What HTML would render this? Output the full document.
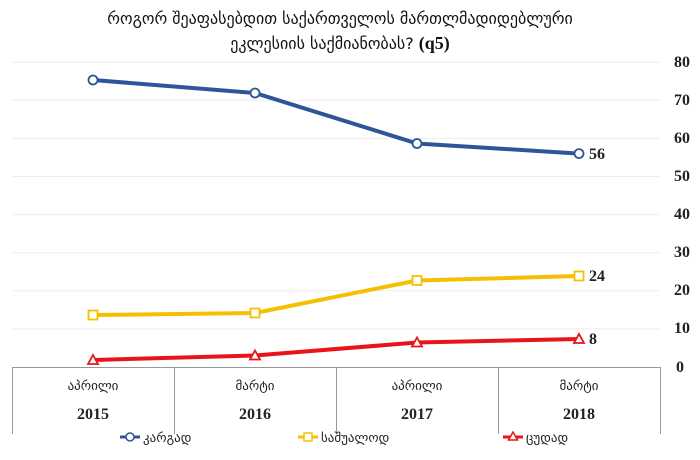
<!DOCTYPE html>
<html><head><meta charset="utf-8"><style>
html,body{margin:0;padding:0;background:#fff;width:700px;height:460px;overflow:hidden}
.g{font-family:"DejaVu Sans","Liberation Sans",sans-serif}
.s{font-family:"Liberation Serif",serif;font-weight:bold}
</style></head><body>
<svg width="700" height="460" viewBox="0 0 700 460" xmlns="http://www.w3.org/2000/svg">
<text class="g" x="340" y="24" text-anchor="middle" font-size="16" fill="#111">როგორ შეაფასებდით საქართველოს მართლმადიდებლური</text>
<text class="g" x="340" y="49" text-anchor="middle" font-size="16" fill="#111">ეკლესიის საქმიანობას? <tspan class="s" font-size="18">(q5)</tspan></text>
<g stroke="#eeeeee" stroke-width="1">
<line x1="12" x2="660" y1="62.2" y2="62.2"/><line x1="12" x2="660" y1="100.3" y2="100.3"/><line x1="12" x2="660" y1="138.4" y2="138.4"/><line x1="12" x2="660" y1="176.5" y2="176.5"/><line x1="12" x2="660" y1="214.6" y2="214.6"/><line x1="12" x2="660" y1="252.7" y2="252.7"/><line x1="12" x2="660" y1="290.8" y2="290.8"/><line x1="12" x2="660" y1="328.9" y2="328.9"/>
</g>
<g class="s" font-size="16" fill="#222" text-anchor="end">
<text x="690" y="67">80</text><text x="690" y="105">70</text><text x="690" y="143">60</text><text x="690" y="181">50</text><text x="690" y="219">40</text><text x="690" y="257">30</text><text x="690" y="295">20</text><text x="690" y="333">10</text><text x="684" y="372">0</text>
</g>
<g stroke="#999" stroke-width="1">
<line x1="12" x2="660" y1="367.5" y2="367.5"/>
<line x1="12.5" x2="12.5" y1="367" y2="434"/><line x1="174.5" x2="174.5" y1="367" y2="434"/><line x1="336.5" x2="336.5" y1="367" y2="434"/><line x1="498.5" x2="498.5" y1="367" y2="434"/><line x1="660.5" x2="660.5" y1="367" y2="434"/>
</g>
<g class="g" font-size="13" fill="#222" text-anchor="middle">
<text x="93" y="390">აპრილი</text><text x="255" y="390">მარტი</text><text x="417" y="390">აპრილი</text><text x="579" y="390">მარტი</text>
</g>
<g class="s" font-size="16" fill="#222" text-anchor="middle">
<text x="93" y="419">2015</text><text x="255" y="419">2016</text><text x="417" y="419">2017</text><text x="579" y="419">2018</text>
</g>
<polyline points="93,80 255,93 417,143.5 579,153.6" fill="none" stroke="#2e5597" stroke-width="4"/>
<g fill="#fff" stroke="#2e5597" stroke-width="1.8"><circle cx="93" cy="80" r="4.5"/><circle cx="255" cy="93" r="4.5"/><circle cx="417" cy="143.5" r="4.5"/><circle cx="579" cy="153.6" r="4.5"/></g>
<polyline points="93,315 255,313 417,280.5 579,276" fill="none" stroke="#f5c000" stroke-width="4"/>
<g fill="#fff" stroke="#f5c000" stroke-width="1.8"><rect x="88.5" y="310.5" width="9" height="9"/><rect x="250.5" y="308.5" width="9" height="9"/><rect x="412.5" y="276" width="9" height="9"/><rect x="574.5" y="271.5" width="9" height="9"/></g>
<polyline points="93,360 255,355.5 417,342.5 579,339" fill="none" stroke="#e8141a" stroke-width="4"/>
<g fill="#fff" stroke="#e8141a" stroke-width="1.8"><polygon points="93,355 98,364 88,364"/><polygon points="255,350.5 260,359.5 250,359.5"/><polygon points="417,337.5 422,346.5 412,346.5"/><polygon points="579,334 584,343 574,343"/></g>
<g class="s" font-size="16" fill="#222">
<text x="589" y="159">56</text><text x="589" y="281">24</text><text x="589" y="344">8</text>
</g>
<g class="g" font-size="13" fill="#222">
<line x1="120" x2="140" y1="437" y2="437" stroke="#2e5597" stroke-width="3"/><circle cx="130" cy="437" r="4" fill="#fff" stroke="#2e5597" stroke-width="1.5"/><text x="143" y="442">კარგად</text>
<line x1="298" x2="318" y1="437" y2="437" stroke="#f5c000" stroke-width="3"/><rect x="304" y="433" width="8" height="8" fill="#fff" stroke="#f5c000" stroke-width="1.5"/><text x="321" y="442">საშუალოდ</text>
<line x1="503" x2="523" y1="437" y2="437" stroke="#e8141a" stroke-width="3"/><polygon points="513,432 517.5,440 508.5,440" fill="#fff" stroke="#e8141a" stroke-width="1.5"/><text x="526" y="442">ცუდად</text>
</g>
</svg>
</body></html>
